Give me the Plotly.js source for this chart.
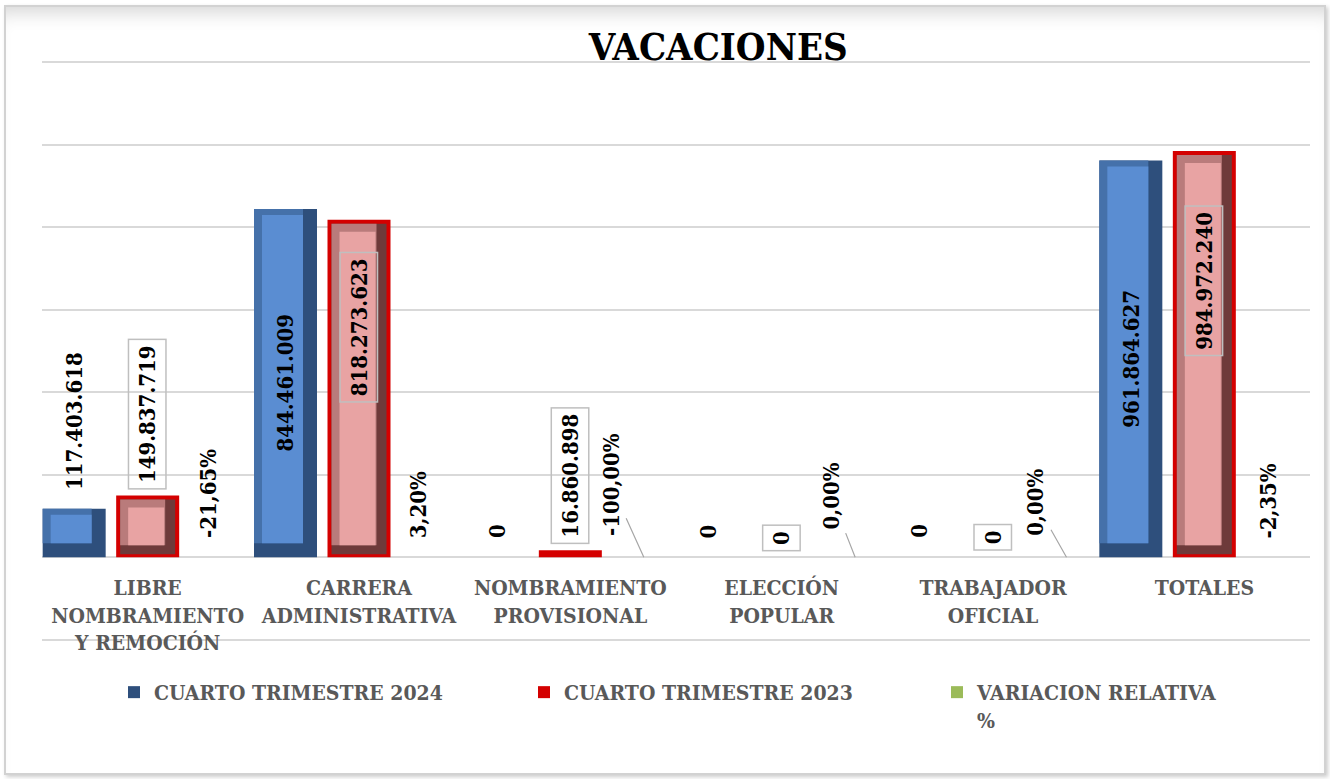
<!DOCTYPE html>
<html><head><meta charset="utf-8">
<script src="https://cdn.plot.ly/plotly-3.0.1.min.js"></script>
<style>
html,body{margin:0;padding:0;background:#fff;}
#wrap{position:relative;width:1330px;height:779px;overflow:hidden;background:#fff;}
#chart{position:absolute;left:0;top:0;width:1330px;height:779px;}
#frame{position:absolute;left:4px;top:5px;width:1318px;height:766px;border:2px solid #d2d2d2;
  box-shadow: inset 0 18px 18px -12px rgba(0,0,0,0.16), 2px 2px 4px rgba(0,0,0,0.2);pointer-events:none;}
</style></head><body>
<div id="wrap"><div id="chart"></div><div id="frame"></div></div>
<script>
// ---------- DATA ----------
const categories = ["LIBRE<br>NOMBRAMIENTO<br>Y REMOCIÓN", "CARRERA<br>ADMINISTRATIVA", "NOMBRAMIENTO<br>PROVISIONAL", "ELECCIÓN<br>POPULAR", "TRABAJADOR<br>OFICIAL", "TOTALES"];
const q4_2024 = [117403618, 844461009, 0, 0, 0, 961864627];
const q4_2023 = [149837719, 818273623, 16860898, 0, 0, 984972240];
const variacion = [-0.2165, 0.0320, -1.0000, 0.0000, 0.0000, -0.0235];
const seriesNames = ["CUARTO TRIMESTRE 2024", "CUARTO TRIMESTRE 2023", "VARIACION RELATIVA<br>%"];
const chartTitle = "VACACIONES";

// ---------- LAYOUT CONSTANTS ----------
const W = 1330, H = 779;
const M = {l: 42, r: 20, t: 61, b: 138};
const Y_MIN = -203e6, Y_MAX = 1203e6;
const plotH = H - M.t - M.b, plotW = W - M.l - M.r;
const yr = (Y_MAX - Y_MIN) / plotH;          // data units per pixel (y)
const xr = categories.length / plotW;        // category units per pixel (x)
const BW = 63 * xr;                          // bar width (category units)
const slot = s => (s - 1) * 73.5 * xr;       // slot centre offset
const FONT = "DejaVu Serif Condensed, DejaVu Serif, serif";
const xs = categories.map((c, i) => i);

function fmt(n){ return String(Math.round(n)).replace(/\B(?=(\d{3})+(?!\d))/g, "."); }
function pct(v){ return (v * 100).toFixed(2).replace(".", ",").replace("-0,00", "0,00") + "%"; }

// bar layer helper (left/right insets in px, bottom/top insets in px)
function layer(vals, s, li, ri, bi, ti, color){
  const base = bi * yr;
  const ys = vals.map(v => (v - ti * yr - base) > 0 ? (v - ti * yr - base) : null);
  return {
    type: "bar", x: xs, y: ys, base: base,
    offset: slot(s) - BW / 2 + li * xr, width: BW - (li + ri) * xr,
    marker: {color: color, line: {width: 0}},
    showlegend: false, hoverinfo: "skip"
  };
}

const traces = [
  // 2024 (blue, bevelled)
  {type: "bar", x: xs, y: q4_2024, name: seriesNames[0], offset: slot(0) - BW / 2, width: BW,
   marker: {color: "#2e4f7c", line: {width: 0}}, legend: "legend"},
  layer(q4_2024, 0, 0, 14, 14, 0, "#4571aa"),
  layer(q4_2024, 0, 8, 14, 14, 6, "#5a8dd2"),
  // 2023 (red border, pink face)
  {type: "bar", x: xs, y: q4_2023, name: seriesNames[1], offset: slot(1) - BW / 2, width: BW,
   marker: {color: "#d40000", line: {width: 0}}, legend: "legend2"},
  layer(q4_2023, 1, 4, 4, 3, 4, "#6e3a3a"),
  layer(q4_2023, 1, 4, 14, 12, 4, "#b97b7b"),
  layer(q4_2023, 1, 12, 15, 12, 12, "#e8a3a3"),
  // variation (tiny values on same axis)
  {type: "bar", x: xs, y: variacion, name: seriesNames[2], offset: slot(2) - BW / 2, width: BW,
   marker: {color: "#9bbb59", line: {width: 0}}, legend: "legend3"}
];

const lblFont = {family: FONT, size: 22, color: "#000000", weight: 700};
const annotations = [];

// 2024 labels
q4_2024.forEach((v, i) => {
  const inside = v > 200 * yr;
  annotations.push({x: i + slot(0), y: inside ? v / 2 : v, xref: "x", yref: "y",
    text: fmt(v), textangle: -90, showarrow: false, font: lblFont,
    xanchor: "center", yanchor: inside ? "middle" : "bottom", yshift: inside ? 0 : 17});
});
// 2023 labels (boxed)
q4_2023.forEach((v, i) => {
  const inside = v > 300 * yr;
  annotations.push({x: i + slot(1), y: inside ? v * 0.68 : v, xref: "x", yref: "y",
    text: fmt(v), textangle: -90, showarrow: false, font: lblFont,
    bordercolor: "#bfbfbf", borderwidth: 1.5, borderpad: 5,
    xanchor: "center", yanchor: inside ? "middle" : "bottom", yshift: inside ? 0 : 6});
});
// variation labels (some moved, with leader lines)
const varPlacement = [
  {dx: -13}, {dx: -15}, {ax: -33, ay: -73}, {ax: -24, ay: -61}, {ax: -31, ay: -55}, {dx: -10}
];
variacion.forEach((v, i) => {
  const p = varPlacement[i];
  const a = {x: i + slot(2), y: v, xref: "x", yref: "y", text: pct(v), textangle: -90, font: lblFont};
  if (p.ax !== undefined) {
    Object.assign(a, {showarrow: true, ax: p.ax, ay: p.ay, axref: "pixel", ayref: "pixel",
      arrowhead: 0, arrowwidth: 1.2, arrowcolor: "#a6a6a6", standoff: 0, startstandoff: 2});
  } else {
    Object.assign(a, {showarrow: false, xanchor: "center", yanchor: "bottom", xshift: p.dx, yshift: 17});
  }
  annotations.push(a);
});

const legFont = {family: FONT, size: 21, color: "#595959", weight: 700};
const legY = (M.t + plotH - 672) / plotH;
const legendAt = px => ({orientation: "h", x: (px - M.l) / plotW, xanchor: "left", y: legY, yanchor: "top",
  valign: "top", font: legFont, bgcolor: "rgba(0,0,0,0)"});

const layout = {
  width: W, height: H,
  margin: M,
  paper_bgcolor: "rgba(0,0,0,0)", plot_bgcolor: "rgba(0,0,0,0)",
  barmode: "overlay",
  title: {text: chartTitle, x: 0.54, xanchor: "center", y: 1 - 47 / H, yanchor: "middle",
    font: {family: FONT, size: 38, color: "#000000", weight: 700}},
  xaxis: {type: "linear", range: [-0.5, categories.length - 0.5],
    tickmode: "array", tickvals: xs, ticktext: categories,
    anchor: "free", position: (0 - Y_MIN) / (Y_MAX - Y_MIN),
    showgrid: false, zeroline: false, showline: false, ticks: "",
    ticklabelstandoff: 16,
    tickfont: {family: FONT, size: 21, color: "#595959", weight: 700}},
  yaxis: {range: [Y_MIN, Y_MAX], tick0: 0, dtick: 200e6, showticklabels: false,
    showgrid: true, gridcolor: "#d9d9d9", gridwidth: 2,
    zeroline: true, zerolinecolor: "#d9d9d9", zerolinewidth: 2, ticks: ""},
  legend: legendAt(114),
  legend2: legendAt(524),
  legend3: legendAt(937),
  annotations: annotations,
  showlegend: true
};

Plotly.newPlot("chart", traces, layout, {displayModeBar: false, staticPlot: true});
</script>
</body></html>
